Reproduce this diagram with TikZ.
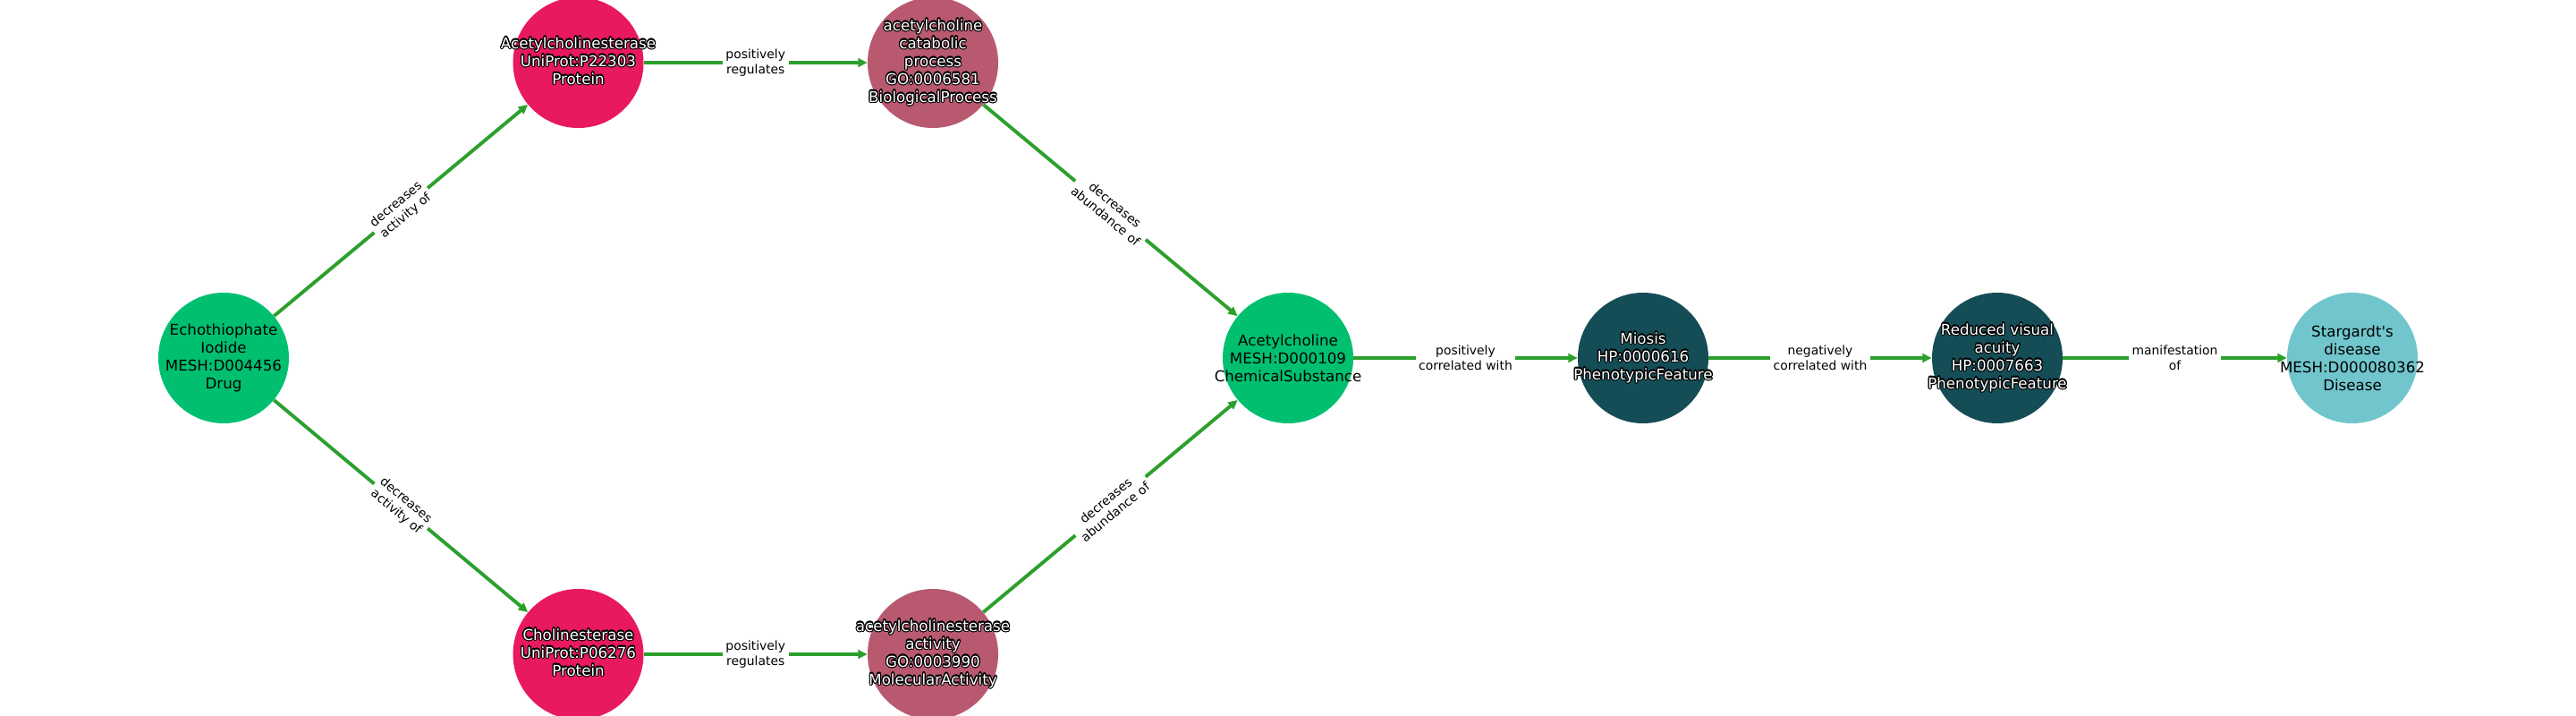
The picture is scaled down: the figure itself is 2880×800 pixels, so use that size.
\documentclass[tikz,border=0pt]{standalone}
\usepackage{fontspec}
\setmainfont{DejaVu Sans}
\usetikzlibrary{arrows.meta}
\definecolor{chemgreen}{RGB}{0,192,112}
\definecolor{protred}{RGB}{232,25,94}
\definecolor{procmauve}{RGB}{184,89,112}
\definecolor{phenteal}{RGB}{20,77,86}
\definecolor{disteal}{RGB}{112,198,204}
\definecolor{edgegreen}{RGB}{44,160,44}
\newlength\olw
\setlength\olw{0.8pt}
\newcommand{\oltab}{\begin{tabular}{@{}c@{}}\oltxt\end{tabular}}
\newcommand{\olcp}[2]{\makebox[0pt][l]{\hspace*{#1}\raisebox{#2}{\textcolor{black}{\oltab}}}}
\newcommand{\olt}[1]{%
  \def\oltxt{#1}%
  \olcp{\olw}{0pt}\olcp{-\olw}{0pt}\olcp{0pt}{\olw}\olcp{0pt}{-\olw}%
  \olcp{.71\olw}{.71\olw}\olcp{-.71\olw}{.71\olw}\olcp{.71\olw}{-.71\olw}\olcp{-.71\olw}{-.71\olw}%
  \olcp{.92\olw}{.38\olw}\olcp{-.92\olw}{.38\olw}\olcp{.92\olw}{-.38\olw}\olcp{-.92\olw}{-.38\olw}%
  \olcp{.38\olw}{.92\olw}\olcp{-.38\olw}{.92\olw}\olcp{.38\olw}{-.92\olw}\olcp{-.38\olw}{-.92\olw}%
  \textcolor{white}{\oltab}}
\begin{document}
\begin{tikzpicture}[x=0.72pt,y=-0.72pt,
  nodecirc/.style={circle, minimum size=105.12pt, inner sep=0pt, draw=none},
  nlabel/.style={font=\fontsize{12}{14.4}\selectfont, align=center, inner sep=0pt},
  wlabel/.style={nlabel},
  elabel/.style={font=\fontsize{10}{12}\selectfont, align=center, fill=white, inner sep=2.5pt},
  edgeline/.style={draw=edgegreen, line width=2.8pt, -{Triangle[length=7.5pt,width=7pt]}}]
\useasboundingbox (0,0) rectangle (2880,800);
% nodes
\node[nodecirc, fill=chemgreen] (echo) at (250,400) {};
\node[nodecirc, fill=protred] (ache) at (646.5,70) {};
\node[nodecirc, fill=procmauve] (acp) at (1043,70) {};
\node[nodecirc, fill=protred] (che) at (646.5,731) {};
\node[nodecirc, fill=procmauve] (acha) at (1043,731) {};
\node[nodecirc, fill=chemgreen] (ach) at (1440,400) {};
\node[nodecirc, fill=phenteal] (mio) at (1837,400) {};
\node[nodecirc, fill=phenteal] (rva) at (2233,400) {};
\node[nodecirc, fill=disteal] (sta) at (2630,400) {};
% edges
\draw[edgeline] (echo) -- node[elabel, sloped] (e1) {decreases\\activity of} (ache);
\draw[edgeline] (echo) -- node[elabel, sloped] (e2) {decreases\\activity of} (che);
\draw[edgeline] (ache) -- node[elabel] (e3) {positively\\regulates} (acp);
\draw[edgeline] (che) -- node[elabel] (e4) {positively\\regulates} (acha);
\draw[edgeline] (acp) -- node[elabel, sloped] (e5) {decreases\\abundance of} (ach);
\draw[edgeline] (acha) -- node[elabel, sloped] (e6) {decreases\\abundance of} (ach);
\draw[edgeline] (ach) -- node[elabel] (e7) {positively\\correlated with} (mio);
\draw[edgeline] (mio) -- node[elabel] (e8) {negatively\\correlated with} (rva);
\draw[edgeline] (rva) -- node[elabel] (e9) {manifestation\\of} (sta);
% labels
\node[nlabel] (echoT) at (echo) {Echothiophate\\Iodide\\MESH:D004456\\Drug};
\node[wlabel] (acheT) at (ache) {\olt{Acetylcholinesterase\\UniProt:P22303\\Protein}};
\node[wlabel] (acpT) at (acp) {\olt{acetylcholine\\catabolic\\process\\GO:0006581\\BiologicalProcess}};
\node[wlabel] (cheT) at (che) {\olt{Cholinesterase\\UniProt:P06276\\Protein}};
\node[wlabel] (achaT) at (acha) {\olt{acetylcholinesterase\\activity\\GO:0003990\\MolecularActivity}};
\node[nlabel] (achT) at (ach) {Acetylcholine\\MESH:D000109\\ChemicalSubstance};
\node[wlabel] (mioT) at (mio) {\olt{Miosis\\HP:0000616\\PhenotypicFeature}};
\node[wlabel] (rvaT) at (rva) {\olt{Reduced visual\\acuity\\HP:0007663\\PhenotypicFeature}};
\node[nlabel] (staT) at (sta) {Stargardt\textquotesingle s\\disease\\MESH:D000080362\\Disease};
\end{tikzpicture}
\end{document}
